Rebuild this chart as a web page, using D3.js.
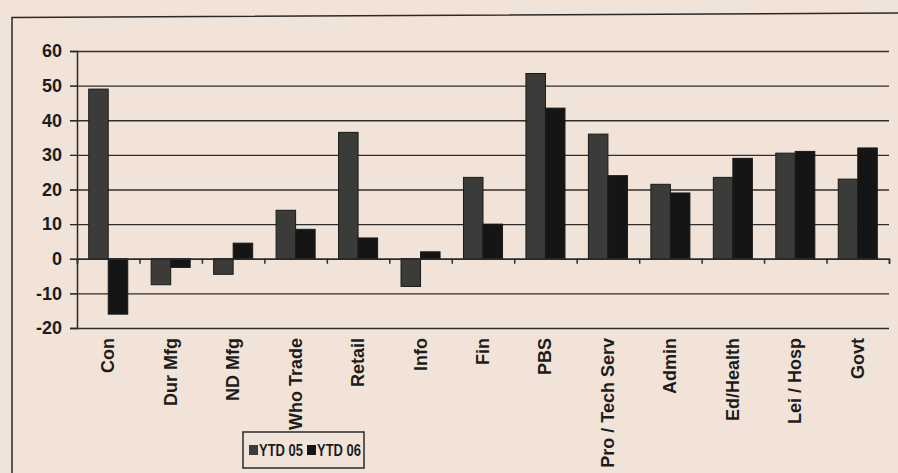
<!DOCTYPE html>
<html>
<head>
<meta charset="utf-8">
<script src="https://cdn.jsdelivr.net/npm/d3@7"></script>
<style>
  body { margin: 0; background: #f1e3d7; }
  svg { display: block; }
  text { font-family: "Liberation Sans", Arial, sans-serif; font-weight: bold; fill: #1c1c1c; }
</style>
</head>
<body>
<svg width="898" height="473"></svg>
<script>
var categories = ["Con", "Dur Mfg", "ND Mfg", "Who Trade", "Retail", "Info", "Fin", "PBS",
  "Pro / Tech Serv", "Admin", "Ed/Health", "Lei / Hosp", "Govt"];
var ytd05 = [49, -7.5, -4.5, 14, 36.5, -8, 23.5, 53.5, 36, 21.5, 23.5, 30.5, 23];
var ytd06 = [-16, -2.5, 4.5, 8.5, 6, 2, 10, 43.5, 24, 19, 29, 31, 32];
var seriesNames = ["YTD 05", "YTD 06"];
var yTicks = [60, 50, 40, 30, 20, 10, 0, -10, -20];

var colors = ["#3b3b39", "#151515"];

var svg = d3.select("svg");
var margin = { top: 51, left: 77, right: 9, bottom: 145 };
var width = 898 - margin.left - margin.right;
var height = 473 - margin.top - margin.bottom;

// outer frame of the chart
svg.append("path")
    .attr("d", "M12,473 L12,17.5 L898,13")
    .attr("fill", "none")
    .attr("stroke", "#2a2a2a")
    .attr("stroke-width", 1.5);

var g = svg.append("g")
    .attr("transform", "translate(" + margin.left + "," + margin.top + ")");

var x0 = d3.scaleBand().domain(categories).range([0, width])
    .paddingInner(0.375).paddingOuter(0.1875);
var x1 = d3.scaleBand().domain(seriesNames).range([0, x0.bandwidth()]);
var y = d3.scaleLinear().domain([-20, 60]).range([height, 0]);

// gridlines
g.append("g")
    .call(d3.axisLeft(y).tickValues(yTicks).tickSize(-width - 7).tickFormat(""))
    .attr("transform", "translate(-7,0)")
    .call(function(a) {
      a.select(".domain").remove();
      a.selectAll("line").attr("stroke", "#2e2e2e").attr("stroke-width", 1.4);
    });

// y axis, plain hyphen for negatives like the original
g.append("g")
    .call(d3.axisLeft(y).tickValues(yTicks).tickSize(7).tickPadding(8)
      .tickFormat(function(d) { return String(d); }))
    .call(function(a) {
      a.select(".domain").attr("stroke", "#2a2a2a").attr("stroke-width", 1.5);
      a.selectAll("line").attr("stroke", "#2a2a2a");
      a.selectAll("text").style("font-size", "18px").style("font-family", "Liberation Sans, Arial, sans-serif")
        .style("font-weight", "bold").attr("fill", "#1c1c1c");
    });

// bars
var rows = categories.map(function(c, i) { return { cat: c, vals: [ytd05[i], ytd06[i]] }; });
var groups = g.selectAll(".grp").data(rows).enter().append("g")
    .attr("transform", function(d) { return "translate(" + x0(d.cat) + ",0)"; });
groups.selectAll("rect")
    .data(function(d) { return d.vals.map(function(v, k) { return { s: seriesNames[k], v: v, k: k }; }); })
    .enter().append("rect")
    .attr("x", function(d) { return x1(d.s); })
    .attr("width", x1.bandwidth())
    .attr("y", function(d) { return y(Math.max(0, d.v)); })
    .attr("height", function(d) { return Math.abs(y(d.v) - y(0)); })
    .attr("fill", function(d) { return colors[d.k]; })
    .attr("stroke", "#1a1a1a")
    .attr("stroke-width", 1);

// category axis along zero
var xBound = d3.scaleLinear().domain([0, categories.length]).range([0, width]);
g.append("g")
    .attr("transform", "translate(0," + y(0) + ")")
    .call(d3.axisBottom(xBound).ticks(categories.length).tickSize(5).tickFormat(""))
    .call(function(a) {
      a.select(".domain").attr("stroke", "#2a2a2a").attr("stroke-width", 1.5);
      a.selectAll("line").attr("stroke", "#2a2a2a").attr("stroke-width", 1.5);
    });

// rotated category labels
g.selectAll(".xlab").data(categories).enter().append("text")
    .attr("class", "xlab")
    .attr("transform", function(d) {
      return "translate(" + (x0(d) + x0.bandwidth() / 2 + 6) + "," + (height + 10) + ") rotate(-90)";
    })
    .attr("text-anchor", "end")
    .style("font-size", "18px")
    .text(function(d) { return d; });

// legend
var legend = svg.append("g").attr("transform", "translate(243,432)");
legend.append("rect")
    .attr("width", 121).attr("height", 36)
    .attr("fill", "none").attr("stroke", "#2a2a2a").attr("stroke-width", 1.5);
var items = legend.selectAll(".li").data(seriesNames).enter().append("g")
    .attr("transform", function(d, i) { return "translate(" + (6 + i * 58) + ",18)"; });
items.append("rect")
    .attr("y", -5).attr("width", 9).attr("height", 10)
    .attr("fill", function(d, i) { return colors[i]; });
items.append("text")
    .attr("x", 10).attr("dy", "0.36em")
    .style("font-size", "17px")
    .attr("textLength", 44)
    .attr("lengthAdjust", "spacingAndGlyphs")
    .text(function(d) { return d; });
</script>
</body>
</html>
